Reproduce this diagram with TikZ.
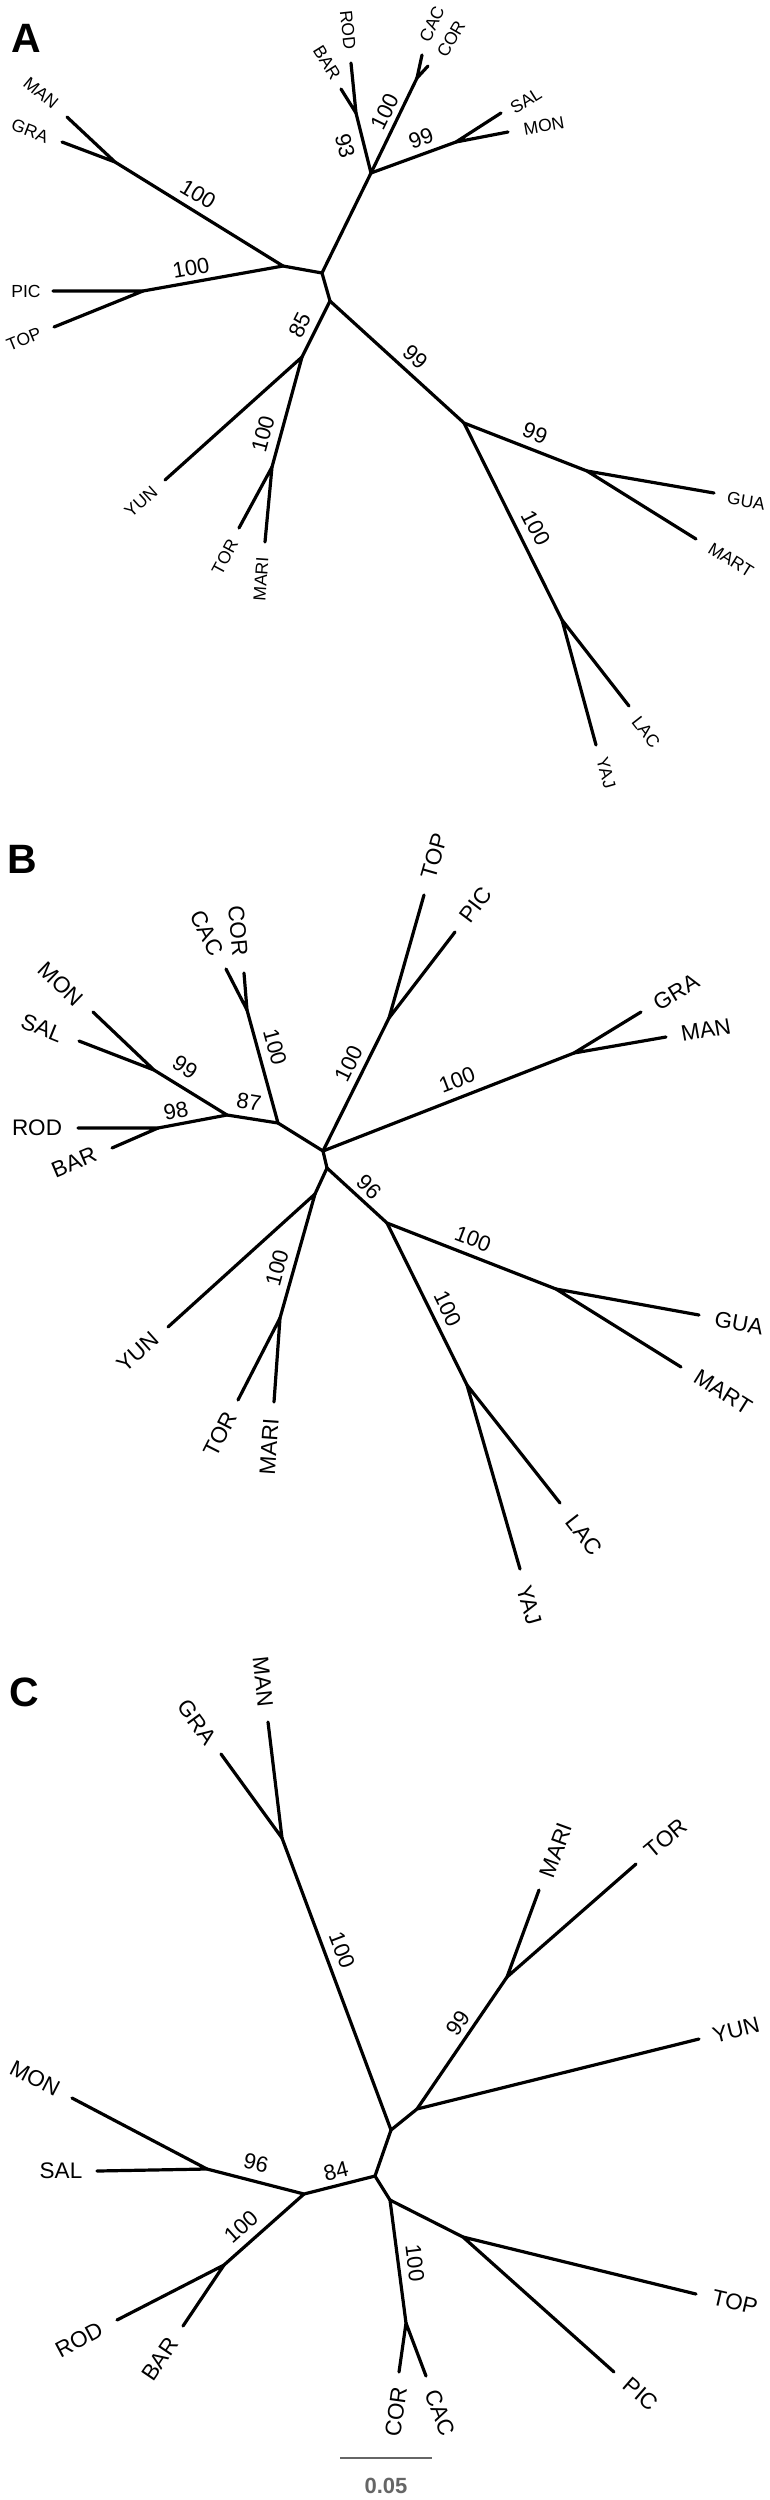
\documentclass[tikz,border=0pt]{standalone}
\usepackage{fontspec}
\setmainfont{Liberation Sans}
\begin{document}
\begin{tikzpicture}[x=1pt,y=-1pt,
  br/.style={line width=3.2pt,line cap=round,line join=round},
  tipA/.style={inner sep=0pt,font=\fontsize{17.5}{18}\selectfont},
  tip/.style={inner sep=0pt,font=\fontsize{22.5}{23}\selectfont},
  boot/.style={inner sep=0pt,font=\fontsize{22}{23}\selectfont},
  panel/.style={inner sep=0pt,font=\fontsize{41}{41}\selectfont\bfseries},
  scalebar/.style={line width=2.4pt,draw=black!60},
  scalelab/.style={inner sep=0pt,text=black!60,font=\fontsize{22}{23}\selectfont\bfseries}]
\useasboundingbox (0,0) rectangle (769,2500);

% ================= Panel A =================
\coordinate (aC) at (322,273);
\coordinate (aL) at (283,266);
\coordinate (aMG) at (115,162);
\coordinate (aMAN) at (67,117);
\coordinate (aGRA) at (62,142);
\coordinate (aPT) at (143,291);
\coordinate (aPIC) at (53,291);
\coordinate (aTOP) at (54,327);
\coordinate (aU) at (371,173);
\coordinate (aRB) at (356,113);
\coordinate (aROD) at (351,63);
\coordinate (aBAR) at (341,89);
\coordinate (aCC) at (417,78);
\coordinate (aCAC) at (422,55);
\coordinate (aCOR) at (428,66);
\coordinate (aSM) at (456,142);
\coordinate (aSAL) at (501,113);
\coordinate (aMON) at (508,132);
\coordinate (aD) at (330,301);
\coordinate (aY) at (302,357);
\coordinate (aYUN) at (165,480);
\coordinate (aTM) at (272,467);
\coordinate (aTOR) at (239,528);
\coordinate (aMARI) at (265,542);
\coordinate (aR) at (464,423);
\coordinate (aGM) at (587,471);
\coordinate (aGUA) at (714,493);
\coordinate (aMART) at (696,539);
\coordinate (aLY) at (562,620);
\coordinate (aLAC) at (629,706);
\coordinate (aYAJ) at (596,745);

\draw[br] (aMAN) -- (aMG) -- (aGRA);
\draw[br] (aMG) -- (aL) -- (aPT);
\draw[br] (aPIC) -- (aPT) -- (aTOP);
\draw[br] (aL) -- (aC) -- (aU);
\draw[br] (aROD) -- (aRB) -- (aBAR);
\draw[br] (aRB) -- (aU) -- (aCC);
\draw[br] (aCAC) -- (aCC) -- (aCOR);
\draw[br] (aU) -- (aSM);
\draw[br] (aSAL) -- (aSM) -- (aMON);
\draw[br] (aC) -- (aD) -- (aY);
\draw[br] (aYUN) -- (aY) -- (aTM);
\draw[br] (aTOR) -- (aTM) -- (aMARI);
\draw[br] (aD) -- (aR) -- (aGM);
\draw[br] (aGUA) -- (aGM) -- (aMART);
\draw[br] (aR) -- (aLY);
\draw[br] (aLAC) -- (aLY) -- (aYAJ);

\node[panel] (pA) at (26,38) {A};
\node[tipA,rotate=-40] (laMAN) at (41,93) {MAN};
\node[tipA,rotate=-21] (laGRA) at (30,131) {GRA};
\node[tipA] (laPIC) at (26,291) {PIC};
\node[tipA,rotate=22] (laTOP) at (24,339) {TOP};
\node[tipA,rotate=-84] (laROD) at (348,30) {ROD};
\node[tipA,rotate=-58] (laBAR) at (327,63) {BAR};
\node[tipA,rotate=66] (laCAC) at (432,24) {CAC};
\node[tipA,rotate=60] (laCOR) at (451,39) {COR};
\node[tipA,rotate=32] (laSAL) at (526,101) {SAL};
\node[tipA,rotate=10] (laMON) at (544,126) {MON};
\node[tipA,rotate=-9] (laGUA) at (746,501) {GUA};
\node[tipA,rotate=-32] (laMART) at (731,560) {MART};
\node[tipA,rotate=-52] (laLAC) at (646,732) {LAC};
\node[tipA,rotate=-74] (laYAJ) at (606,773) {YAJ};
\node[tipA,rotate=42] (laYUN) at (141,502) {YUN};
\node[tipA,rotate=62] (laTOR) at (225,557) {TOR};
\node[tipA,rotate=86] (laMARI) at (261,579) {MARI};

\node[boot,rotate=-31] (baMG) at (198,194) {100};
\node[boot,rotate=10] (baPT) at (191,268) {100};
\node[boot,rotate=-75] (baRB) at (345,146) {93};
\node[boot,rotate=64] (baCC) at (385,112) {100};
\node[boot,rotate=20] (baSM) at (421,138) {99};
\node[boot,rotate=63] (baY) at (300,325) {85};
\node[boot,rotate=-42] (baR) at (416,357) {99};
\node[boot,rotate=-21] (baGM) at (535,433) {99};
\node[boot,rotate=-63] (baLY) at (536,528) {100};
\node[boot,rotate=75] (baTM) at (263,434) {100};

% ================= Panel B =================
\coordinate (bN3) at (323,1151);
\coordinate (bN1) at (278,1123);
\coordinate (bCC) at (247,1010);
\coordinate (bCOR) at (244,973);
\coordinate (bCAC) at (226,969);
\coordinate (bN2) at (227,1115);
\coordinate (bMS) at (154,1070);
\coordinate (bMON) at (93,1012);
\coordinate (bSAL) at (79,1041);
\coordinate (bRB) at (158,1128);
\coordinate (bROD) at (78,1128);
\coordinate (bBAR) at (112,1148);
\coordinate (bPT) at (389,1018);
\coordinate (bTOP) at (424,895);
\coordinate (bPIC) at (455,932);
\coordinate (bGM) at (574,1053);
\coordinate (bGRA) at (641,1012);
\coordinate (bMAN) at (666,1037);
\coordinate (bN4) at (327,1168);
\coordinate (bY) at (315,1194);
\coordinate (bYUN) at (168,1327);
\coordinate (bTM) at (280,1318);
\coordinate (bTOR) at (238,1400);
\coordinate (bMARI) at (274,1402);
\coordinate (bR) at (387,1223);
\coordinate (bGM2) at (556,1289);
\coordinate (bGUA) at (699,1315);
\coordinate (bMART) at (681,1367);
\coordinate (bLY) at (467,1385);
\coordinate (bLAC) at (560,1503);
\coordinate (bYAJ) at (520,1569);

\draw[br] (bCOR) -- (bCC) -- (bCAC);
\draw[br] (bCC) -- (bN1) -- (bN2);
\draw[br] (bN1) -- (bN3);
\draw[br] (bMON) -- (bMS) -- (bSAL);
\draw[br] (bMS) -- (bN2) -- (bRB);
\draw[br] (bROD) -- (bRB) -- (bBAR);
\draw[br] (bN3) -- (bPT);
\draw[br] (bTOP) -- (bPT) -- (bPIC);
\draw[br] (bN3) -- (bGM);
\draw[br] (bGRA) -- (bGM) -- (bMAN);
\draw[br] (bN3) -- (bN4) -- (bY);
\draw[br] (bYUN) -- (bY) -- (bTM);
\draw[br] (bTOR) -- (bTM) -- (bMARI);
\draw[br] (bN4) -- (bR) -- (bGM2);
\draw[br] (bGUA) -- (bGM2) -- (bMART);
\draw[br] (bR) -- (bLY);
\draw[br] (bLAC) -- (bLY) -- (bYAJ);

\node[panel] (pB) at (22,859) {B};
\node[tip,rotate=-85] (lbCOR) at (238,931) {COR};
\node[tip,rotate=-63] (lbCAC) at (207,933) {CAC};
\node[tip,rotate=-44] (lbMON) at (61,984) {MON};
\node[tip,rotate=-22] (lbSAL) at (42,1028) {SAL};
\node[tip] (lbROD) at (37,1128) {ROD};
\node[tip,rotate=23] (lbBAR) at (74,1162) {BAR};
\node[tip,rotate=74] (lbTOP) at (434,856) {TOP};
\node[tip,rotate=53] (lbPIC) at (476,905) {PIC};
\node[tip,rotate=31] (lbGRA) at (676,992) {GRA};
\node[tip,rotate=10] (lbMAN) at (706,1030) {MAN};
\node[tip,rotate=42] (lbYUN) at (138,1352) {YUN};
\node[tip,rotate=63] (lbTOR) at (220,1434) {TOR};
\node[tip,rotate=86] (lbMARI) at (269,1447) {MARI};
\node[tip,rotate=-10] (lbGUA) at (739,1323) {GUA};
\node[tip,rotate=-32] (lbMART) at (723,1392) {MART};
\node[tip,rotate=-52] (lbLAC) at (584,1535) {LAC};
\node[tip,rotate=-74] (lbYAJ) at (529,1605) {YAJ};

\node[boot,rotate=-75] (bbCC) at (275,1047) {100};
\node[boot,rotate=-34] (bbMS) at (185,1067) {99};
\node[boot,rotate=11] (bbRB) at (176,1111) {98};
\node[boot,rotate=-9] (bbN2) at (249,1102) {87};
\node[boot,rotate=64] (bbPT) at (349,1064) {100};
\node[boot,rotate=21] (bbGM) at (457,1080) {100};
\node[boot,rotate=-45] (bbR) at (369,1187) {96};
\node[boot,rotate=75] (bbTM) at (277,1268) {100};
\node[boot,rotate=-21] (bbGM2) at (473,1239) {100};
\node[boot,rotate=-64] (bbLY) at (448,1309) {100};

% ================= Panel C =================
\coordinate (cMG) at (282,1838);
\coordinate (cMAN) at (268,1722);
\coordinate (cGRA) at (221,1754);
\coordinate (c1) at (391,2130);
\coordinate (c2) at (417,2109);
\coordinate (cYUN) at (699,2039);
\coordinate (cMT) at (507,1977);
\coordinate (cMARI) at (539,1890);
\coordinate (cTOR) at (636,1864);
\coordinate (c3) at (375,2176);
\coordinate (c4) at (390,2200);
\coordinate (c84) at (304,2194);
\coordinate (cMS) at (207,2169);
\coordinate (cMON) at (72,2098);
\coordinate (cSAL) at (97,2171);
\coordinate (cRB) at (224,2265);
\coordinate (cROD) at (117,2320);
\coordinate (cBAR) at (183,2326);
\coordinate (cTP) at (463,2237);
\coordinate (cTOP) at (696,2294);
\coordinate (cPIC) at (614,2372);
\coordinate (cCC) at (406,2323);
\coordinate (cCOR) at (399,2372);
\coordinate (cCAC) at (426,2376);

\draw[br] (cMAN) -- (cMG) -- (cGRA);
\draw[br] (cMG) -- (c1) -- (c2) -- (cYUN);
\draw[br] (c2) -- (cMT);
\draw[br] (cMARI) -- (cMT) -- (cTOR);
\draw[br] (c1) -- (c3) -- (c4);
\draw[br] (c3) -- (c84) -- (cMS);
\draw[br] (cMON) -- (cMS) -- (cSAL);
\draw[br] (c84) -- (cRB);
\draw[br] (cROD) -- (cRB) -- (cBAR);
\draw[br] (c4) -- (cTP);
\draw[br] (cTOP) -- (cTP) -- (cPIC);
\draw[br] (c4) -- (cCC);
\draw[br] (cCOR) -- (cCC) -- (cCAC);

\node[panel] (pC) at (24,1692) {C};
\node[tip,rotate=-84] (lcMAN) at (263,1682) {MAN};
\node[tip,rotate=-54] (lcGRA) at (197,1722) {GRA};
\node[tip,rotate=70] (lcMARI) at (556,1850) {MARI};
\node[tip,rotate=40] (lcTOR) at (666,1838) {TOR};
\node[tip,rotate=14] (lcYUN) at (736,2030) {YUN};
\node[tip,rotate=-27] (lcMON) at (35,2078) {MON};
\node[tip] (lcSAL) at (61,2171) {SAL};
\node[tip,rotate=28] (lcROD) at (79,2340) {ROD};
\node[tip,rotate=56] (lcBAR) at (160,2359) {BAR};
\node[tip,rotate=-13] (lcTOP) at (735,2302) {TOP};
\node[tip,rotate=-41] (lcPIC) at (641,2394) {PIC};
\node[tip,rotate=82] (lcCOR) at (396,2412) {COR};
\node[tip,rotate=-69] (lcCAC) at (440,2413) {CAC};

\node[boot,rotate=-69] (bcMG) at (342,1950) {100};
\node[boot,rotate=56] (bcMT) at (458,2023) {99};
\node[boot,rotate=-13] (bcMS) at (256,2163) {96};
\node[boot,rotate=14] (bc84) at (336,2171) {84};
\node[boot,rotate=42] (bcRB) at (241,2227) {100};
\node[boot,rotate=-83] (bcCC) at (415,2263) {100};

\coordinate (sb1) at (340,2458);
\coordinate (sb2) at (432,2458);
\draw[scalebar] (sb1) -- (sb2);
\node[scalelab] (sbl) at (386,2486) {0.05};
\end{tikzpicture}
\end{document}
